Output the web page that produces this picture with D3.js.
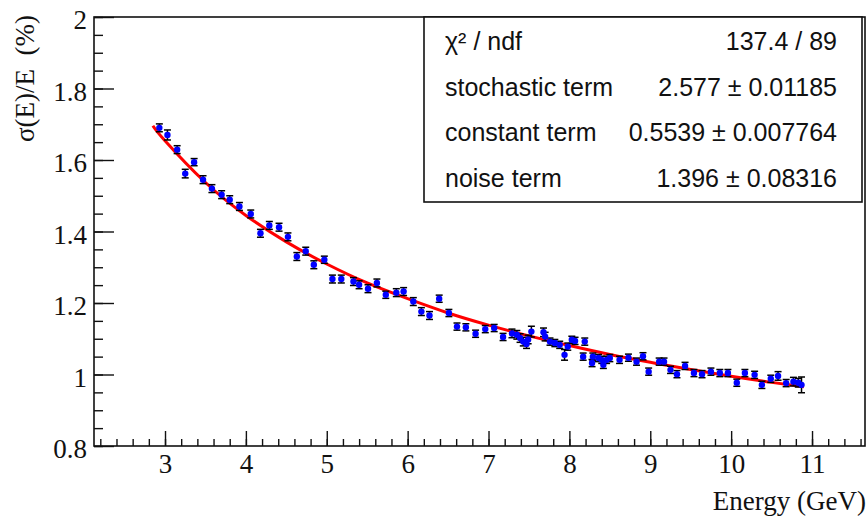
<!DOCTYPE html>
<html>
<head>
<meta charset="utf-8">
<script src="https://cdn.jsdelivr.net/npm/d3@7"></script>
<style>
  body { margin: 0; background: #fff; }
  #graph { width: 867px; height: 519px; }
</style>
</head>
<body>
<div id="graph"></div>
<script>
// Measured points (energy in GeV, resolution in %)
const energy = [2.93, 3.03, 3.15, 3.25, 3.36, 3.47, 3.58, 3.70, 3.80, 3.92,
    4.06, 4.18, 4.29, 4.41, 4.52, 4.63, 4.74, 4.84, 4.97, 5.07,
    5.18, 5.33, 5.40, 5.51, 5.62, 5.73, 5.86, 5.95, 6.07, 6.17,
    6.27, 6.39, 6.51, 6.61, 6.72, 6.84, 6.96, 7.07, 7.18, 7.29,
    7.35, 7.39, 7.43, 7.47, 7.49, 7.53, 7.68, 7.70, 7.76, 7.82,
    7.88, 7.94, 7.98, 8.03, 8.07, 8.17, 8.19, 8.28, 8.29, 8.36,
    8.40, 8.42, 8.46, 8.50, 8.62, 8.73, 8.83, 8.91, 8.98, 9.11,
    9.17, 9.25, 9.33, 9.43, 9.54, 9.64, 9.75, 9.86, 9.96, 10.07,
    10.17, 10.29, 10.38, 10.49, 10.58, 10.68, 10.77, 10.83, 10.87];
const resolution = [1.690, 1.670, 1.629, 1.562, 1.594, 1.545, 1.520, 1.503, 1.489, 1.470,
    1.449, 1.395, 1.417, 1.412, 1.385, 1.330, 1.345, 1.307, 1.321, 1.267,
    1.267, 1.260, 1.251, 1.240, 1.256, 1.223, 1.229, 1.232, 1.204, 1.176,
    1.165, 1.212, 1.172, 1.134, 1.132, 1.114, 1.127, 1.130, 1.105, 1.115,
    1.111, 1.102, 1.092, 1.085, 1.098, 1.120, 1.118, 1.106, 1.092, 1.088,
    1.083, 1.055, 1.078, 1.097, 1.094, 1.050, 1.092, 1.032, 1.050, 1.046,
    1.041, 1.027, 1.041, 1.046, 1.041, 1.047, 1.036, 1.051, 1.008, 1.036,
    1.036, 1.013, 1.001, 1.024, 1.004, 1.001, 1.008, 1.004, 1.004, 0.977,
    1.004, 0.999, 0.971, 0.988, 0.996, 0.976, 0.980, 0.977, 0.971];
const resolutionErr = [0.011, 0.014, 0.011, 0.012, 0.010, 0.011, 0.011, 0.011, 0.011, 0.011,
    0.011, 0.011, 0.011, 0.011, 0.011, 0.011, 0.011, 0.011, 0.010, 0.011,
    0.011, 0.011, 0.011, 0.011, 0.011, 0.010, 0.011, 0.011, 0.011, 0.011,
    0.011, 0.010, 0.010, 0.010, 0.010, 0.010, 0.010, 0.010, 0.010, 0.012,
    0.012, 0.012, 0.012, 0.012, 0.012, 0.015, 0.012, 0.012, 0.010, 0.010,
    0.010, 0.015, 0.010, 0.010, 0.010, 0.010, 0.010, 0.010, 0.010, 0.010,
    0.010, 0.010, 0.010, 0.010, 0.010, 0.010, 0.010, 0.010, 0.010, 0.010,
    0.010, 0.010, 0.010, 0.010, 0.010, 0.010, 0.010, 0.010, 0.010, 0.010,
    0.010, 0.010, 0.010, 0.010, 0.012, 0.010, 0.012, 0.012, 0.022];

// Fit curve
const fitEnergy = [2.85, 3.0, 3.5, 4.0, 4.5, 5.0, 5.5, 6.0, 6.5, 7.0,
    7.5, 8.0, 8.5, 9.0, 9.5, 10.0, 10.5, 10.9];
const fitResolution = [1.696, 1.654, 1.537, 1.445, 1.371, 1.309, 1.256, 1.212, 1.172, 1.138,
    1.108, 1.081, 1.056, 1.034, 1.014, 0.995, 0.978, 0.966];

// Axis ticks
const xTicks = [3, 4, 5, 6, 7, 8, 9, 10, 11];
const yTicks = [0.8, 1, 1.2, 1.4, 1.6, 1.8, 2];
const yTickLabels = ["0.8", "1", "1.2", "1.4", "1.6", "1.8", "2"];

// Stats box
const statNames = ["\u03c7\u00b2 / ndf", "stochastic term", "constant term", "noise term"];
const statValues = ["137.4 / 89", "2.577 \u00b1 0.01185", "0.5539 \u00b1 0.007764", "1.396 \u00b1 0.08316"];

function graficate() {
    var margin = { top: 17, right: 2, bottom: 73, left: 94 },
        width = 867 - margin.left - margin.right,
        height = 519 - margin.top - margin.bottom;

    const root = d3.select("#graph").append("svg")
        .attr("width", 867)
        .attr("height", 519);

    const svg = root.append("g")
        .attr("transform", `translate(${margin.left}, ${margin.top})`);

    const x = d3.scaleLinear()
        .domain([2.122, 11.655])
        .range([0, width]);

    const y = d3.scaleLinear()
        .domain([0.8, 2])
        .range([height, 0]);

    const serif = "'Liberation Serif', 'Times New Roman', serif";

    // Minor ticks
    svg.append("g")
        .attr("class", "minor")
        .call(d3.axisLeft(y).tickValues(d3.range(0.8, 2.0001, 0.05)).tickSizeInner(-9).tickSizeOuter(0).tickFormat(""));
    svg.append("g")
        .attr("class", "minor")
        .attr("transform", `translate(0, ${height})`)
        .call(d3.axisBottom(x).tickValues(d3.range(2.2, 11.65, 0.2)).tickSizeInner(-7).tickSizeOuter(0).tickFormat(""));

    // Major ticks with labels
    svg.append("g")
        .attr("class", "major")
        .attr("font-family", serif)
        .attr("font-size", 27)
        .call(d3.axisLeft(y).tickValues(yTicks).tickSizeInner(-20).tickSizeOuter(0).tickPadding(7)
            .tickFormat((d, i) => yTickLabels[i]))
        .selectAll("text")
        .attr("dy", "0.43em");
    svg.append("g")
        .attr("class", "major")
        .attr("font-family", serif)
        .attr("font-size", 27)
        .attr("transform", `translate(0, ${height})`)
        .call(d3.axisBottom(x).tickValues(xTicks).tickSizeInner(-15).tickSizeOuter(0).tickPadding(8)
            .tickFormat(d3.format("d")));

    svg.selectAll(".domain").remove();
    svg.selectAll(".tick line")
        .attr("stroke", "#111")
        .attr("stroke-width", 1.4);
    svg.selectAll(".major").attr("font-family", serif).attr("font-size", 27);
    svg.selectAll(".tick text")
        .style("font-family", serif)
        .style("font-size", "27px")
        .attr("fill", "#111");

    // Frame
    svg.append("rect")
        .attr("x", 0)
        .attr("y", 0)
        .attr("width", width)
        .attr("height", height)
        .attr("fill", "none")
        .attr("stroke", "#111")
        .attr("stroke-width", 1.6);

    // Axis titles
    root.append("text")
        .attr("transform", "translate(34, 15) rotate(-90)")
        .attr("text-anchor", "end")
        .style("font-family", serif)
        .style("font-size", "27px")
        .style("white-space", "pre")
        .attr("fill", "#111")
        .text("\u03c3(E)/E  (%)");

    root.append("text")
        .attr("x", 866)
        .attr("y", 510)
        .attr("text-anchor", "end")
        .style("font-family", serif)
        .style("font-size", "27px")
        .attr("fill", "#111")
        .text("Energy (GeV)");

    // Fit function
    const line = d3.line()
        .x((d, i) => x(fitEnergy[i]))
        .y(d => y(d))
        .curve(d3.curveNatural);

    svg.append("path")
        .datum(fitResolution)
        .attr("fill", "none")
        .attr("stroke", "#ff0000")
        .attr("stroke-width", 3)
        .attr("d", line);

    // Error bars
    const pts = energy.map((e, i) => ({ e: e, v: resolution[i], err: resolutionErr[i] }));
    const bars = svg.append("g")
        .attr("stroke", "#000")
        .attr("stroke-width", 1.5);

    bars.selectAll(".err")
        .data(pts)
        .enter()
        .append("line")
        .attr("x1", d => x(d.e))
        .attr("x2", d => x(d.e))
        .attr("y1", d => y(d.v - d.err))
        .attr("y2", d => y(d.v + d.err));

    bars.selectAll(".capTop")
        .data(pts)
        .enter()
        .append("line")
        .attr("x1", d => x(d.e) - 3.5)
        .attr("x2", d => x(d.e) + 3.5)
        .attr("y1", d => y(d.v + d.err))
        .attr("y2", d => y(d.v + d.err));

    bars.selectAll(".capBottom")
        .data(pts)
        .enter()
        .append("line")
        .attr("x1", d => x(d.e) - 3.5)
        .attr("x2", d => x(d.e) + 3.5)
        .attr("y1", d => y(d.v - d.err))
        .attr("y2", d => y(d.v - d.err));

    // Markers
    svg.append("g")
        .selectAll("circle")
        .data(pts)
        .enter()
        .append("circle")
        .attr("cx", d => x(d.e))
        .attr("cy", d => y(d.v))
        .attr("r", 3.2)
        .attr("fill", "#0000ff");

    // Stats box
    const box = root.append("g");
    box.append("rect")
        .attr("x", 424)
        .attr("y", 17)
        .attr("width", 438)
        .attr("height", 185)
        .attr("fill", "#fff")
        .attr("stroke", "#111")
        .attr("stroke-width", 1.6);

    const rowY = d3.scaleLinear().domain([0, 3]).range([50, 186.5]);
    const sans = "'Liberation Sans', Arial, sans-serif";

    box.selectAll(".statName")
        .data(statNames)
        .enter()
        .append("text")
        .attr("x", 445)
        .attr("y", (d, i) => rowY(i))
        .style("font-family", sans)
        .style("font-size", "25px")
        .attr("fill", "#111")
        .text(d => d);

    box.selectAll(".statValue")
        .data(statValues)
        .enter()
        .append("text")
        .attr("x", 837)
        .attr("y", (d, i) => rowY(i))
        .attr("text-anchor", "end")
        .style("font-family", sans)
        .style("font-size", "25px")
        .attr("fill", "#111")
        .text(d => d);
}

graficate();
</script>
</body>
</html>
